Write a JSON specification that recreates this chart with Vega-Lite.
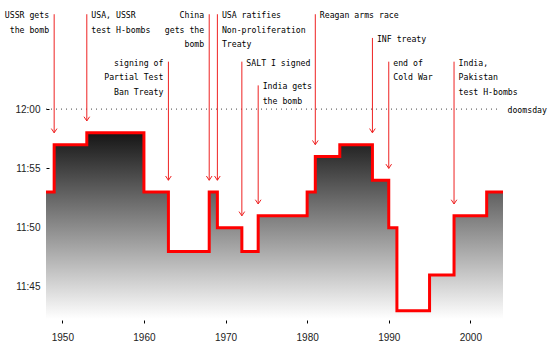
{
  "$schema": "https://vega.github.io/schema/vega-lite/v6.json",
  "autosize": "none",
  "padding": {"left": 46, "top": 0, "right": 47, "bottom": 33},
  "width": 457,
  "height": 319,
  "background": "white",
  "config": {
    "view": {"stroke": null},
    "axis": {"grid": false, "domain": false, "tickSize": 3, "tickColor": "#000", "labelFont": "Liberation Sans", "labelFontSize": 10, "labelColor": "#222"}
  },
  "datasets": {
    "clock": [
      {"year": 1947, "m": 53},
      {"year": 1949, "m": 57},
      {"year": 1953, "m": 58},
      {"year": 1960, "m": 53},
      {"year": 1963, "m": 48},
      {"year": 1968, "m": 53},
      {"year": 1969, "m": 50},
      {"year": 1972, "m": 48},
      {"year": 1974, "m": 51},
      {"year": 1980, "m": 53},
      {"year": 1981, "m": 56},
      {"year": 1984, "m": 57},
      {"year": 1988, "m": 54},
      {"year": 1990, "m": 50},
      {"year": 1991, "m": 43},
      {"year": 1995, "m": 46},
      {"year": 1998, "m": 51},
      {"year": 2002, "m": 53},
      {"year": 2007, "m": 55}
    ],
    "events": [
      {"year": 1949, "label": "USSR gets\nthe bomb", "top": 68, "tip": 58, "side": "left"},
      {"year": 1953, "label": "USA, USSR\ntest H-bombs", "top": 68, "tip": 59, "side": "right"},
      {"year": 1963, "label": "signing of\nPartial Test\nBan Treaty", "top": 64, "tip": 54, "side": "left"},
      {"year": 1968, "label": "China\ngets the\nbomb", "top": 68, "tip": 54, "side": "left"},
      {"year": 1969, "label": "USA ratifies\nNon-proliferation\nTreaty", "top": 68, "tip": 54, "side": "right"},
      {"year": 1972, "label": "SALT I signed", "top": 64, "tip": 51, "side": "right"},
      {"year": 1974, "label": "India gets\nthe bomb", "top": 62, "tip": 52, "side": "right"},
      {"year": 1981, "label": "Reagan arms race", "top": 68, "tip": 57, "side": "right"},
      {"year": 1988, "label": "INF treaty", "top": 66, "tip": 58, "side": "right"},
      {"year": 1990, "label": "end of\nCold War", "top": 64, "tip": 55, "side": "right"},
      {"year": 1998, "label": "India,\nPakistan\ntest H-bombs", "top": 64, "tip": 52, "side": "right"}
    ]
  },
  "layer": [
    {
      "data": {"name": "clock"},
      "mark": {
        "type": "area",
        "interpolate": "step-after",
        "clip": true,
        "color": {
          "gradient": "linear",
          "x1": 0, "y1": 1, "x2": 0, "y2": 0,
          "stops": [
            {"offset": 0, "color": "#ffffff"},
            {"offset": 1, "color": "#151515"}
          ]
        }
      },
      "encoding": {
        "x": {
          "field": "year", "type": "quantitative", "title": null,
          "scale": {"domain": [1948, 2004], "nice": false, "zero": false},
          "axis": {"values": [1950, 1960, 1970, 1980, 1990, 2000], "format": "d", "offset": 1, "labelPadding": 9}
        },
        "y": {
          "field": "m", "type": "quantitative", "title": null,
          "scale": {"domain": [42.3, 69.2], "nice": false, "zero": false},
          "axis": {
            "values": [45, 50, 55, 60],
            "labelExpr": "datum.value >= 60 ? '12:00' : '11:' + datum.value",
            "offset": -3, "labelPadding": 6
          }
        },
        "y2": {"datum": 42.3}
      }
    },
    {
      "data": {"name": "clock"},
      "mark": {"type": "line", "interpolate": "step-after", "clip": true, "color": "#ff0000", "strokeWidth": 3},
      "encoding": {
        "x": {"field": "year", "type": "quantitative", "title": null},
        "y": {"field": "m", "type": "quantitative", "title": null}
      }
    },
    {
      "data": {"values": [{"from": 1948, "to": 2003.5, "m": 60}]},
      "mark": {"type": "rule", "stroke": "#444444", "opacity": 1, "strokeWidth": 1, "strokeDash": [1, 4]},
      "encoding": {
        "x": {"field": "from", "type": "quantitative", "title": null},
        "x2": {"field": "to"},
        "y": {"field": "m", "type": "quantitative", "title": null}
      }
    },
    {
      "data": {"values": [{"year": 2004, "m": 60, "label": "doomsday"}]},
      "mark": {"type": "text", "align": "left", "baseline": "alphabetic", "dx": 4.5, "dy": 4, "font": "DejaVu Sans Mono", "fontSize": 8.2, "color": "#000"},
      "encoding": {
        "x": {"field": "year", "type": "quantitative", "title": null},
        "y": {"field": "m", "type": "quantitative", "title": null},
        "text": {"field": "label"}
      }
    },
    {
      "data": {"name": "events"},
      "mark": {"type": "rule", "color": "#ee2222", "strokeWidth": 1},
      "encoding": {
        "x": {"field": "year", "type": "quantitative", "title": null},
        "y": {"field": "top", "type": "quantitative", "title": null},
        "y2": {"field": "tip"}
      }
    },
    {
      "data": {"name": "events"},
      "mark": {"type": "point", "shape": "M-1,-1.5L0,0L1,-1.5", "filled": false, "color": "#ee2222", "strokeWidth": 1, "size": 32, "opacity": 1},
      "encoding": {
        "x": {"field": "year", "type": "quantitative", "title": null},
        "y": {"field": "tip", "type": "quantitative", "title": null}
      }
    },
    {
      "data": {"name": "events"},
      "transform": [{"filter": "datum.side == 'left'"}],
      "mark": {"type": "text", "align": "right", "baseline": "alphabetic", "dx": -5, "dy": 4, "lineBreak": "\n", "lineHeight": 14.5, "font": "DejaVu Sans Mono", "fontSize": 8.2, "color": "#000"},
      "encoding": {
        "x": {"field": "year", "type": "quantitative", "title": null},
        "y": {"field": "top", "type": "quantitative", "title": null},
        "text": {"field": "label"}
      }
    },
    {
      "data": {"name": "events"},
      "transform": [{"filter": "datum.side == 'right'"}],
      "mark": {"type": "text", "align": "left", "baseline": "alphabetic", "dx": 4.5, "dy": 4, "lineBreak": "\n", "lineHeight": 14.5, "font": "DejaVu Sans Mono", "fontSize": 8.2, "color": "#000"},
      "encoding": {
        "x": {"field": "year", "type": "quantitative", "title": null},
        "y": {"field": "top", "type": "quantitative", "title": null},
        "text": {"field": "label"}
      }
    }
  ]
}
